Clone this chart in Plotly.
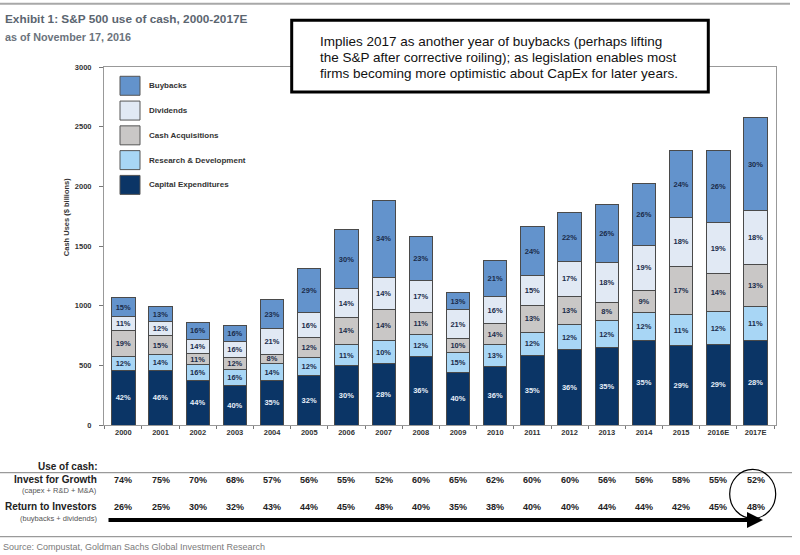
import plotly.graph_objects as go

# ---------------- data ----------------
years = ["2000", "2001", "2002", "2003", "2004", "2005", "2006", "2007", "2008",
         "2009", "2010", "2011", "2012", "2013", "2014", "2015", "2016E", "2017E"]

capex = [453, 455, 371, 335, 369, 416, 495, 517, 570, 444, 489, 581, 634, 651, 704, 665, 676, 712]
rnd = [125, 138, 137, 134, 148, 151, 180, 187, 190, 165, 182, 196, 206, 223, 241, 257, 271, 285]
cash_acq = [210, 153, 90, 95, 76, 165, 228, 268, 181, 118, 181, 223, 238, 154, 184, 405, 319, 344]
dividends = [120, 120, 120, 134, 212, 209, 237, 266, 266, 237, 223, 254, 295, 336, 374, 414, 430, 453]
buybacks = [159, 126, 143, 132, 243, 372, 495, 642, 371, 148, 300, 408, 404, 480, 517, 556, 601, 785]

capex_pct = [42, 46, 44, 40, 35, 32, 30, 28, 36, 40, 36, 35, 36, 35, 35, 29, 29, 28]
rnd_pct = [12, 14, 16, 16, 14, 12, 11, 10, 12, 15, 13, 12, 12, 12, 12, 11, 12, 11]
ca_pct = [19, 15, 11, 12, 8, 12, 14, 14, 11, 10, 14, 13, 13, 8, 9, 17, 14, 13]
div_pct = [11, 12, 14, 16, 21, 16, 14, 14, 17, 21, 16, 15, 17, 18, 19, 18, 19, 18]
bb_pct = [15, 13, 16, 16, 23, 29, 30, 34, 23, 13, 21, 24, 22, 26, 26, 24, 26, 30]

invest_growth = [74, 75, 70, 68, 57, 56, 55, 52, 60, 65, 62, 60, 60, 56, 56, 58, 55, 52]
return_investors = [26, 25, 30, 32, 43, 44, 45, 48, 40, 35, 38, 40, 40, 44, 44, 42, 45, 48]

y_ticks = [0, 500, 1000, 1500, 2000, 2500, 3000]

series = [
    ("Capital Expenditures", capex, capex_pct, "#0b3566", "#e6eef8"),
    ("Research & Development", rnd, rnd_pct, "#a8d6f5", "#1b2c4a"),
    ("Cash Acquisitions", cash_acq, ca_pct, "#c9c7c6", "#1b2c4a"),
    ("Dividends", dividends, div_pct, "#e1e9f4", "#1b2c4a"),
    ("Buybacks", buybacks, bb_pct, "#6393cc", "#1b2c4a"),
]

SANS = "Liberation Sans, Arial, sans-serif"

# layout geometry (pixels)
L, R, T, B = 104, 776, 66.7, 425
W, H = 800, 555


def pxx(p):
    return (p - L) / (R - L)


def pxy(p):
    return (B - p) / (B - T)


fig = go.Figure()
for name, vals, pcts, col, tcol in series:
    fig.add_trace(go.Bar(
        x=years, y=vals, name=name,
        marker=dict(color=col, line=dict(color="#4a4a4a", width=1)),
        text=[f"{p}%" for p in pcts],
        textposition="inside", insidetextanchor="middle",
        constraintext="none",
        textfont=dict(family=SANS, size=7.5, color=tcol, weight="bold"),
        showlegend=False,
        hoverinfo="x+y+name",
    ))

shapes = []
annotations = []

# top rule
shapes.append(dict(type="line", xref="paper", yref="paper",
                   x0=pxx(0), x1=pxx(790), y0=pxy(3.5), y1=pxy(3.5),
                   line=dict(color="#a8a8a8", width=2)))

# legend (custom swatches)
leg_items = ["Buybacks", "Dividends", "Cash Acquisitions", "Research & Development", "Capital Expenditures"]
leg_cols = ["#6393cc", "#e1e9f4", "#c9c7c6", "#a8d6f5", "#0b3566"]
for i, (nm, c) in enumerate(zip(leg_items, leg_cols)):
    y0 = 76 + i * 24.8
    shapes.append(dict(type="rect", xref="paper", yref="paper",
                       x0=pxx(120), x1=pxx(140), y0=pxy(y0), y1=pxy(y0 + 19),
                       fillcolor=c, line=dict(color="#555555", width=1)))
    annotations.append(dict(xref="paper", yref="paper", x=pxx(147), y=pxy(y0 + 9.5),
                            text=nm, showarrow=False, xanchor="left", yanchor="middle",
                            font=dict(family=SANS, size=8, color="#333333", weight="bold")))

# callout box
shapes.append(dict(type="rect", xref="paper", yref="paper", layer="above",
                   x0=pxx(291.7), x1=pxx(708.3), y0=pxy(20), y1=pxy(91.7),
                   fillcolor="white", line=dict(color="black", width=3)))
callout = ["Implies 2017 as another year of buybacks (perhaps lifting",
           "the S&P after corrective roiling); as legislation enables most",
           "firms becoming more optimistic about CapEx for later years."]
for i, line in enumerate(callout):
    annotations.append(dict(xref="paper", yref="paper", x=pxx(318), y=pxy(41 + i * 16.2),
                            text=line, showarrow=False, xanchor="left", yanchor="middle",
                            font=dict(family=SANS, size=13.5, color="#111111")))

# titles
annotations.append(dict(xref="paper", yref="paper", x=pxx(3), y=pxy(19),
                        text="Exhibit 1: S&P 500 use of cash, 2000-2017E", showarrow=False,
                        xanchor="left", yanchor="middle",
                        font=dict(family=SANS, size=11.8, color="#5b6570", weight="bold")))
annotations.append(dict(xref="paper", yref="paper", x=pxx(3), y=pxy(36.5),
                        text="as of November 17, 2016", showarrow=False,
                        xanchor="left", yanchor="middle",
                        font=dict(family=SANS, size=10.8, color="#6b737c", weight="bold")))

# y-axis title
annotations.append(dict(xref="paper", yref="paper", x=pxx(66), y=pxy(217),
                        text="Cash Uses ($ billions)", showarrow=False, textangle=-90,
                        xanchor="center", yanchor="middle",
                        font=dict(family=SANS, size=7.5, color="#333333", weight="bold")))

# bottom table
shapes.append(dict(type="line", xref="paper", yref="paper",
                   x0=pxx(0), x1=pxx(792), y0=pxy(472.7), y1=pxy(472.7),
                   line=dict(color="#9a9a9a", width=1.2)))
shapes.append(dict(type="line", xref="paper", yref="paper",
                   x0=pxx(0), x1=pxx(792), y0=pxy(536.7), y1=pxy(536.7),
                   line=dict(color="#9a9a9a", width=1.2)))

row_labels = [
    ("Use of cash:", 466.7, 10, "#222222", "bold"),
    ("Invest for Growth", 480, 10, "#222222", "bold"),
    ("(capex + R&D + M&A)", 490.7, 7.5, "#555555", "normal"),
    ("Return to Investors", 506.7, 10, "#222222", "bold"),
    ("(buybacks + dividends)", 518.3, 7.5, "#555555", "normal"),
]
for txt, yy, sz, col, wt in row_labels:
    annotations.append(dict(xref="paper", yref="paper", x=pxx(99), y=pxy(yy),
                            text=txt, showarrow=False, xanchor="right", yanchor="middle",
                            font=dict(family=SANS, size=sz, color=col, weight=wt)))

for i, (a, b) in enumerate(zip(invest_growth, return_investors)):
    annotations.append(dict(xref="x", yref="paper", x=i, y=pxy(480),
                            text=f"{a}%", showarrow=False, xanchor="center", yanchor="middle",
                            font=dict(family=SANS, size=9, color="#222222", weight="bold")))
    annotations.append(dict(xref="x", yref="paper", x=i, y=pxy(506.7),
                            text=f"{b}%", showarrow=False, xanchor="center", yanchor="middle",
                            font=dict(family=SANS, size=9, color="#222222", weight="bold")))

# arrow
annotations.append(dict(xref="paper", yref="paper", x=pxx(763), y=pxy(520),
                        ax=-(763 - 107), ay=0, axref="pixel", ayref="pixel",
                        text="", showarrow=True, arrowhead=2, arrowsize=0.8,
                        arrowwidth=4, arrowcolor="black"))

# circle around 2017E
shapes.append(dict(type="circle", xref="paper", yref="paper",
                   x0=pxx(729.7), x1=pxx(775.7), y0=pxy(469.5), y1=pxy(518.5),
                   line=dict(color="black", width=1.2)))

# source
annotations.append(dict(xref="paper", yref="paper", x=pxx(1), y=pxy(547.5),
                        text="Source: Compustat, Goldman Sachs Global Investment Research",
                        showarrow=False, xanchor="left", yanchor="middle",
                        font=dict(family=SANS, size=9, color="#7a7a7a")))

fig.update_layout(
    width=W, height=H,
    margin=dict(l=L, r=W - R, t=T, b=H - B, pad=0),
    barmode="stack", bargap=0.373,
    plot_bgcolor="white", paper_bgcolor="white",
    shapes=shapes, annotations=annotations,
    xaxis=dict(type="category", range=[-0.52, 17.55],
               showline=True, linecolor="#999999", linewidth=1, mirror=True,
               ticks="outside", tickson="boundaries", ticklen=3, tickcolor="#777777",
               tickfont=dict(family=SANS, size=7.5, color="#333333", weight="bold"),
               showgrid=False, zeroline=False),
    yaxis=dict(range=[0, 3000], tickvals=y_ticks,
               showline=True, linecolor="#999999", linewidth=1, mirror=True,
               ticks="outside", ticklen=4, tickcolor="#777777",
               ticklabelstandoff=6,
               tickfont=dict(family=SANS, size=7.5, color="#333333", weight="bold"),
               showgrid=False, zeroline=False),
)

fig.write_html("out.html", config={"displayModeBar": False},
               post_script="document.body.style.margin='0';")
